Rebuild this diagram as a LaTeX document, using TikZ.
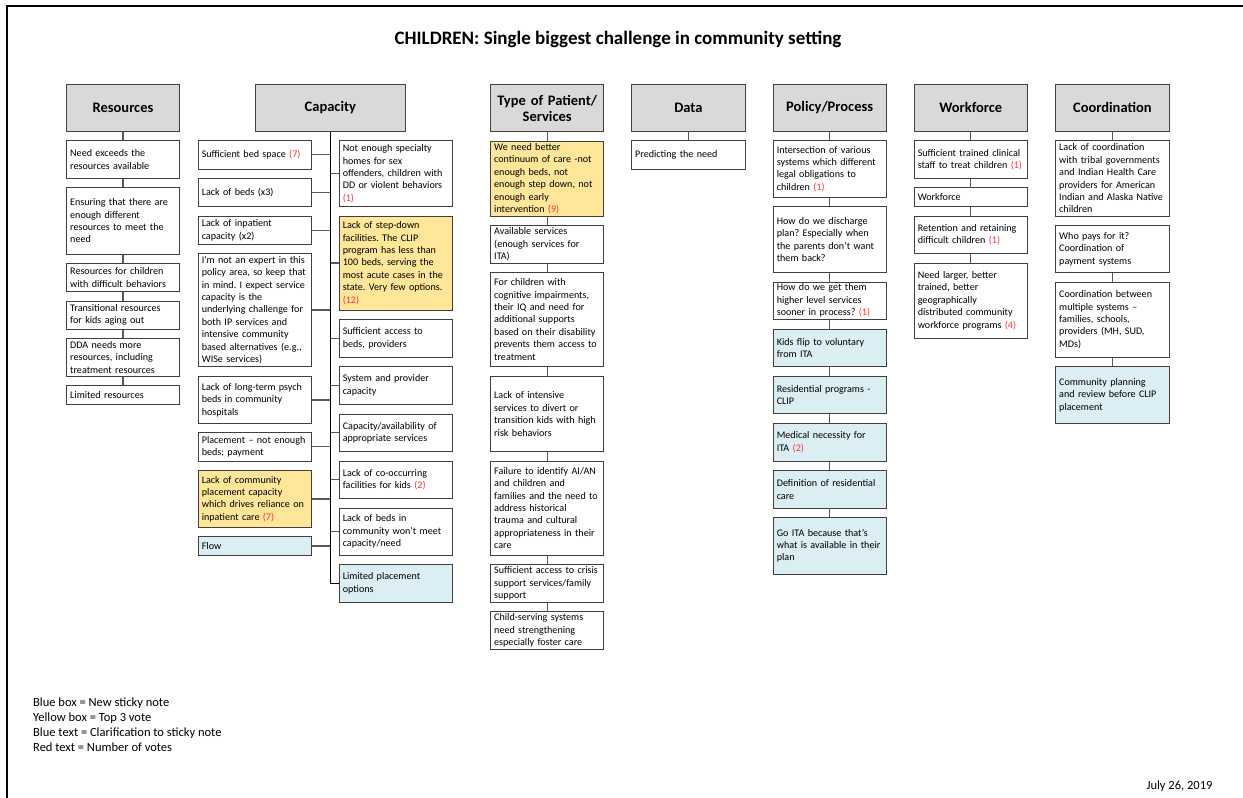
\documentclass[tikz,border=0pt]{standalone}
\usepackage{fontspec}
\setmainfont{Carlito}
\usetikzlibrary{calc}
\hyphenpenalty=10000
\exhyphenpenalty=10000
\frenchspacing
\definecolor{hdr}{HTML}{D9D9D9}
\definecolor{yel}{HTML}{FFE699}
\definecolor{blu}{HTML}{DAEEF3}
\definecolor{votered}{HTML}{FF3333}
\definecolor{edge}{HTML}{404040}
\newcommand\votes[1]{\textcolor{votered}{(#1)}}
\newcommand\cbox[7]{%
  \pgfmathsetmacro\cbw{#4-#2}%
  \pgfmathsetmacro\cbh{#5-#3}%
  \pgfmathsetmacro\cbx{(#2+#4)/2}%
  \pgfmathsetmacro\cby{(#3+#5)/2}%
  \pgfmathsetmacro\cbt{#4-#2-7}%
  \node[#6, minimum width=\cbw pt, minimum height=\cbh pt, text width=\cbt pt] (#1) at (\cbx,\cby) {#7};}
\tikzset{
 base/.style={draw=edge, line width=1pt, inner xsep=3.5pt, inner ysep=1pt, align=left, font=\fontsize{10.1}{12.4}\selectfont, anchor=center},
 item/.style={base, fill=white},
 yelbox/.style={base, fill=yel},
 blubox/.style={base, fill=blu},
 hdrbox/.style={base, fill=hdr, align=center, font=\fontsize{14.5}{16}\selectfont\bfseries},
 conn/.style={draw=black!65, line width=1.2pt},
 trunk/.style={draw=black, line width=1.6pt},
 frame/.style={draw=black, line width=1.5pt},
}
\begin{document}
\frenchspacing
\begin{tikzpicture}[x=1pt,y=-1pt]
\useasboundingbox[fill=white] (0,0) rectangle (1243,798);
\draw[frame] (7,798) -- (7,6) -- (1243,6);
\node[font=\fontsize{19}{22}\selectfont\bfseries] (title) at (618,39) {CHILDREN: Single biggest challenge in community setting};

% Resources
\cbox{rh}{66.7}{84.3}{179.3}{131}{hdrbox}{Resources}
\cbox{r1}{66.7}{140.7}{179.3}{178.3}{item}{Need exceeds the\\resources available}
\cbox{r2}{66.7}{187.7}{179.3}{254}{item}{Ensuring that there are\\enough different\\resources to meet the\\need}
\cbox{r3}{66.7}{263.3}{179.3}{291.7}{item}{Resources for children\\with difficult behaviors}
\cbox{r4}{66.7}{301}{179.3}{329.3}{item}{Transitional resources\\for kids aging out}
\cbox{r5}{66.7}{338.7}{179.3}{376.3}{item}{DDA needs more\\resources, including\\treatment resources}
\cbox{r6}{66.7}{385.7}{179.3}{404.3}{item}{Limited resources}

% Capacity
\cbox{ch}{255}{84.3}{405.7}{131}{hdrbox}{Capacity}
\cbox{cl1}{198.3}{140.3}{311.7}{169.3}{item}{Sufficient bed space \votes{7}}
\cbox{cl2}{198.3}{178.3}{311.7}{206.7}{item}{Lack of beds (x3)}
\cbox{cl3}{198.3}{216}{311.7}{244.3}{item}{Lack of inpatient\\capacity (x2)}
\cbox{cl4}{198.3}{253.3}{311.7}{366.7}{item}{I’m not an expert in this\\policy area, so keep that\\in mind. I expect service\\capacity is the\\underlying challenge for\\both IP services and\\intensive community\\based alternatives (e.g.,\\WISe services)}
\cbox{cl5}{198.3}{376.7}{311.7}{423.3}{item}{Lack of long-term psych\\beds in community\\hospitals}
\cbox{cl6}{198.3}{432.3}{311.7}{461}{item}{Placement – not enough\\beds; payment}
\cbox{cl7}{198.3}{470.7}{311.7}{527.3}{yelbox}{Lack of community\\placement capacity\\which drives reliance on\\inpatient care \votes{7}}
\cbox{cl8}{198.3}{536.7}{311.7}{555.3}{blubox}{Flow}

\cbox{cr1}{339.3}{140.7}{452.7}{206.7}{item}{Not enough specialty\\homes for sex\\offenders, children with\\DD or violent behaviors\\\votes{1}}
\cbox{cr2}{339.3}{216}{452.7}{310}{yelbox}{Lack of step-down\\facilities. The CLIP\\program has less than\\100 beds, serving the\\most acute cases in the\\state. Very few options.\\\votes{12}}
\cbox{cr3}{339.3}{319.3}{452.7}{357.3}{item}{Sufficient access to\\beds, providers}
\cbox{cr4}{339.3}{366.7}{452.7}{404.3}{item}{System and provider\\capacity}
\cbox{cr5}{339.3}{414}{452.7}{451.7}{item}{Capacity/availability of\\appropriate services}
\cbox{cr6}{339.3}{461}{452.7}{498.3}{item}{Lack of co-occurring\\facilities for kids \votes{2}}
\cbox{cr7}{339.3}{508.3}{452.7}{555}{item}{Lack of beds in\\community won’t meet\\capacity/need}
\cbox{cr8}{339.3}{564.7}{452.7}{602}{blubox}{Limited placement\\options}

% Type of Patient
\cbox{th}{490.7}{84.3}{603.7}{131.7}{hdrbox}{Type of Patient/\\Services}
\cbox{t1}{490.7}{141}{603.7}{216.3}{yelbox}{We need better\\continuum of care -not\\enough beds, not\\enough step down, not\\enough early\\intervention \votes{9}}
\cbox{t2}{490.7}{225.7}{603.7}{263.3}{item}{Available services\\(enough services for\\ITA)}
\cbox{t3}{490.7}{272.3}{603.7}{366.7}{item}{For children with\\cognitive impairments,\\their IQ and need for\\additional supports\\based on their disability\\prevents them access to\\treatment}
\cbox{t4}{490.7}{376.3}{603.7}{451.7}{item}{Lack of intensive\\services to divert or\\transition kids with high\\risk behaviors}
\cbox{t5}{490.7}{461}{603.7}{555}{item}{Failure to identify AI/AN\\and children and\\families and the need to\\address historical\\trauma and cultural\\appropriateness in their\\care}
\cbox{t6}{490.7}{564.7}{603.7}{602.3}{item}{Sufficient access to crisis\\support services/family\\support}
\cbox{t7}{490.7}{611.7}{603.7}{649.3}{item}{Child-serving systems\\need strengthening\\especially foster care}

% Data
\cbox{dh}{631.7}{84.3}{745}{131}{hdrbox}{Data}
\cbox{d1}{631.7}{140.7}{745}{169}{item}{Predicting the need}

% Policy
\cbox{ph}{773.3}{84.3}{886}{131}{hdrbox}{Policy/Process}
\cbox{p1}{773.3}{140.7}{886}{197.3}{item}{Intersection of various\\systems which different\\legal obligations to\\children \votes{1}}
\cbox{p2}{773.3}{206.7}{886}{272.7}{item}{How do we discharge\\plan? Especially when\\the parents don’t want\\them back?}
\cbox{p3}{773.3}{282}{886}{319.3}{item}{How do we get them\\higher level services\\sooner in process? \votes{1}}
\cbox{p4}{773.3}{329.3}{886}{366.7}{blubox}{Kids flip to voluntary\\from ITA}
\cbox{p5}{773.3}{376.3}{886}{413.7}{blubox}{Residential programs -\\CLIP}
\cbox{p6}{773.3}{423.3}{886}{461}{blubox}{Medical necessity for\\ITA \votes{2}}
\cbox{p7}{773.3}{470.7}{886}{508}{blubox}{Definition of residential\\care}
\cbox{p8}{773.3}{517.3}{886}{574.3}{blubox}{Go ITA because that’s\\what is available in their\\plan}

% Workforce
\cbox{wh}{914.3}{84.3}{1027.3}{131.3}{hdrbox}{Workforce}
\cbox{w1}{914.3}{140.7}{1027.3}{178.7}{item}{Sufficient trained clinical\\staff to treat children \votes{1}}
\cbox{w2}{914.3}{187.7}{1027.3}{206.7}{item}{Workforce}
\cbox{w3}{914.3}{216}{1027.3}{253.7}{item}{Retention and retaining\\difficult children \votes{1}}
\cbox{w4}{914.3}{263}{1027.3}{338.3}{item}{Need larger, better\\trained, better\\geographically\\distributed community\\workforce programs \votes{4}}

% Coordination
\cbox{kh}{1055.7}{84.3}{1169}{131.3}{hdrbox}{Coordination}
\cbox{k1}{1055.7}{140.7}{1169}{216.3}{item}{Lack of coordination\\with tribal governments\\and Indian Health Care\\providers for American\\Indian and Alaska Native\\children}
\cbox{k2}{1055.7}{225.7}{1169}{272.7}{item}{Who pays for it?\\Coordination of\\payment systems}
\cbox{k3}{1055.7}{282}{1169}{357.3}{item}{Coordination between\\multiple systems –\\families, schools,\\providers (MH, SUD,\\MDs)}
\cbox{k4}{1055.7}{366.7}{1169}{423.3}{blubox}{Community planning\\and review before CLIP\\placement}

% connectors
\foreach \a/\b in {rh/r1,r1/r2,r2/r3,r3/r4,r4/r5,r5/r6,
  th/t1,t1/t2,t2/t3,t3/t4,t4/t5,t5/t6,t6/t7,
  dh/d1,
  ph/p1,p1/p2,p2/p3,p3/p4,p4/p5,p5/p6,p6/p7,p7/p8,
  wh/w1,w1/w2,w2/w3,w3/w4,
  kh/k1,k2/k3,k3/k4}
  \draw[conn] (\a.south) -- (\b.north);
\foreach \c in {cl1,cl2,cl3,cl4,cl5,cl6,cl7,cl8}
  \draw[conn] (\c.east) -- (\c.east -| ch.south);
\foreach \c in {cr1,cr2,cr3,cr4,cr5,cr6,cr7}
  \draw[conn] (\c.west) -- (\c.west -| ch.south);
\draw[trunk] (ch.south) |- (cr8.west);

% legend
\node[anchor=north west, align=left, inner sep=0pt, font=\fontsize{12.5}{15}\selectfont] (legend) at (33,697.5) {Blue box = New sticky note\\Yellow box = Top 3 vote\\Blue text = Clarification to sticky note\\Red text = Number of votes};
\node[font=\fontsize{12.5}{14}\selectfont] (date) at (1179.5,786) {July 26, 2019};
\end{tikzpicture}
\end{document}
